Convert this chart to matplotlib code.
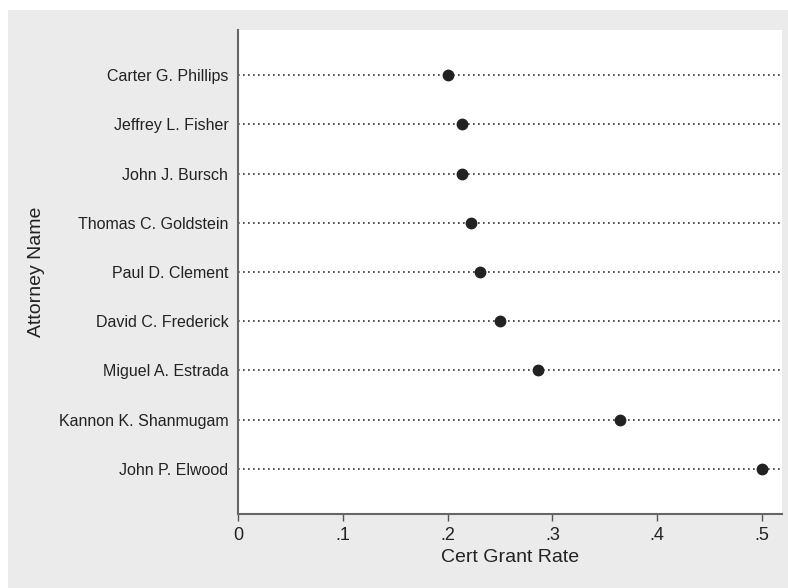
import matplotlib.pyplot as plt
from matplotlib.patches import Rectangle

# ---- data ----
attorneys = [
    "Carter G. Phillips",
    "Jeffrey L. Fisher",
    "John J. Bursch",
    "Thomas C. Goldstein",
    "Paul D. Clement",
    "David C. Frederick",
    "Miguel A. Estrada",
    "Kannon K. Shanmugam",
    "John P. Elwood",
]
grant_rate = [0.200, 0.214, 0.214, 0.222, 0.231, 0.250, 0.286, 0.364, 0.500]
x_ticks = [0, 0.1, 0.2, 0.3, 0.4, 0.5]
x_tick_labels = ["0", ".1", ".2", ".3", ".4", ".5"]

plt.rcParams['font.family'] = ['Liberation Sans', 'DejaVu Sans']

fig = plt.figure(figsize=(7.88, 5.88), dpi=100, facecolor="white")
# gray graph region (Stata-like)
fig.patches.append(Rectangle((8 / 788, 0), 1, 1 - 10 / 588,
                             transform=fig.transFigure, facecolor="#ebebeb",
                             edgecolor="none", zorder=-10))

ax = fig.add_axes([238 / 788, 74 / 588, 544 / 788, 484 / 588])
ax.set_facecolor("white")

n = len(attorneys)
ypos = list(range(n, 0, -1))

for y in ypos:
    ax.axhline(y, color="#333333", linestyle=(0, (1, 2)), linewidth=1.2, zorder=1)

ax.plot(grant_rate, ypos, 'o', color="#222222", markersize=7.5, zorder=3)

ax.set_xlim(0, 0.519)
ax.set_ylim(0.086, n + 0.914)

ax.set_yticks(ypos)
ax.set_yticklabels(attorneys, fontsize=11.5, color="#222222")
ax.tick_params(axis='y', length=0, pad=7)

ax.set_xticks(x_ticks)
ax.set_xticklabels(x_tick_labels, fontsize=13, color="#222222")
ax.tick_params(axis='x', length=5, width=1, color="#555555", pad=4)

ax.set_xlabel("Cert Grant Rate", fontsize=14, color="#222222", labelpad=4)
ax.set_ylabel("Attorney Name", fontsize=14, color="#222222", labelpad=10)

for side in ["top", "right"]:
    ax.spines[side].set_visible(False)
for side in ["left", "bottom"]:
    ax.spines[side].set_color("#666666")
    ax.spines[side].set_linewidth(1.5)

fig.savefig("out.png", dpi=100, facecolor=fig.get_facecolor())
